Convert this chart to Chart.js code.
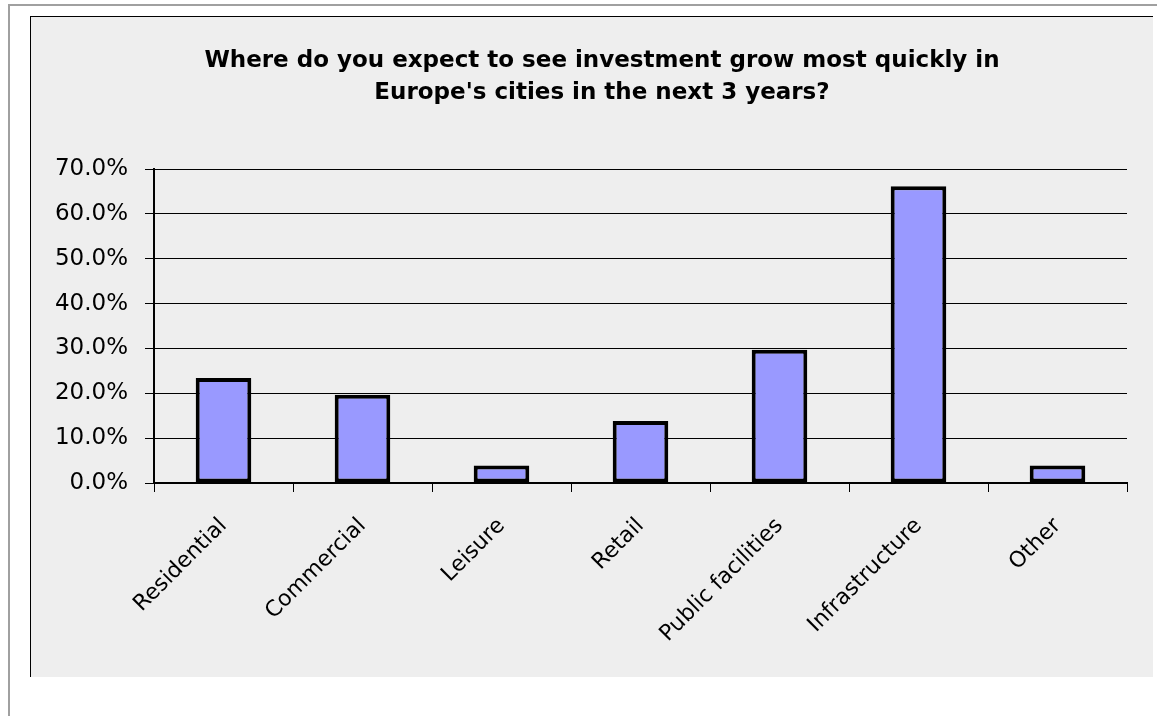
<!DOCTYPE html>
<html>
<head>
<meta charset="utf-8">
<script src="https://cdn.jsdelivr.net/npm/chart.js@4/dist/chart.umd.min.js"></script>
<style>
    body { margin: 0; background: #ffffff; overflow: hidden; }
    #frame {
        position: absolute; left: 8px; top: 4px; width: 1170px; height: 730px;
        border: 2px solid #a0a0a0;
    }
    #panel {
        position: absolute; left: 30px; top: 16px; width: 1122px; height: 660px;
        background: #eeeeee; border-left: 1px solid #000; border-top: 1px solid #000;
    }
    #chart1 { position: absolute; left: 0; top: 0; }
</style>
</head>
<body>
<div id="frame"></div>
<div id="panel"><canvas id="chart1" width="1122" height="660"></canvas></div>
<script>
    // Sectores e inversión esperada (% de respuestas)
    var categorias = ['Residential', 'Commercial', 'Leisure', 'Retail', 'Public facilities', 'Infrastructure', 'Other'];
    var valores = [23.4, 19.7, 3.9, 13.8, 29.7, 66.2, 3.9];
    var titulo = ['Where do you expect to see investment grow most quickly in', "Europe's cities in the next 3 years?"];

    var fuente = 'DejaVu Sans';

    // el título va un poco a la derecha del centro del lienzo
    var moverTitulo = {
        id: 'moverTitulo',
        afterLayout: function (chart) {
            if (chart.titleBlock) {
                chart.titleBlock.left += 12;
                chart.titleBlock.right += 12;
            }
        }
    };

    var ctx1 = document.getElementById('chart1').getContext('2d');
    var chart1 = new Chart(ctx1, {
        type: 'bar',
        data: {
            labels: categorias,
            datasets: [{
                data: valores,
                backgroundColor: '#9999ff',
                borderColor: '#000000',
                borderWidth: 4,
                borderSkipped: false,
                barPercentage: 0.4,
                categoryPercentage: 1
            }]
        },
        options: {
            responsive: false,
            animation: false,
            layout: { padding: { left: 22, right: 26, top: 0, bottom: 0 } },
            plugins: {
                legend: { display: false },
                tooltip: { enabled: false },
                title: {
                    display: true,
                    text: titulo,
                    color: '#000',
                    font: { family: fuente, size: 23, weight: 'bold', lineHeight: 1.35 },
                    padding: { top: 29, bottom: 61 }
                }
            },
            scales: {
                x: {
                    afterFit: function (s) { s.height = 194; },
                    grid: { drawOnChartArea: false, drawTicks: true, tickLength: 9, color: '#000', offset: true },
                    border: { color: '#000', width: 2 },
                    ticks: {
                        color: '#000', autoSkip: false, minRotation: 45, maxRotation: 45, padding: 21,
                        font: { family: fuente, size: 22 }
                    }
                },
                y: {
                    min: 0,
                    max: 70,
                    afterFit: function (s) { s.width = 101; },
                    grid: { color: '#000', lineWidth: 1, tickLength: 9 },
                    border: { color: '#000', width: 2 },
                    ticks: {
                        stepSize: 10, color: '#000', padding: 17,
                        font: { family: fuente, size: 23 },
                        callback: function (v) { return v.toFixed(1) + '%'; }
                    }
                }
            }
        },
        plugins: [moverTitulo]
    });
</script>
</body>
</html>
